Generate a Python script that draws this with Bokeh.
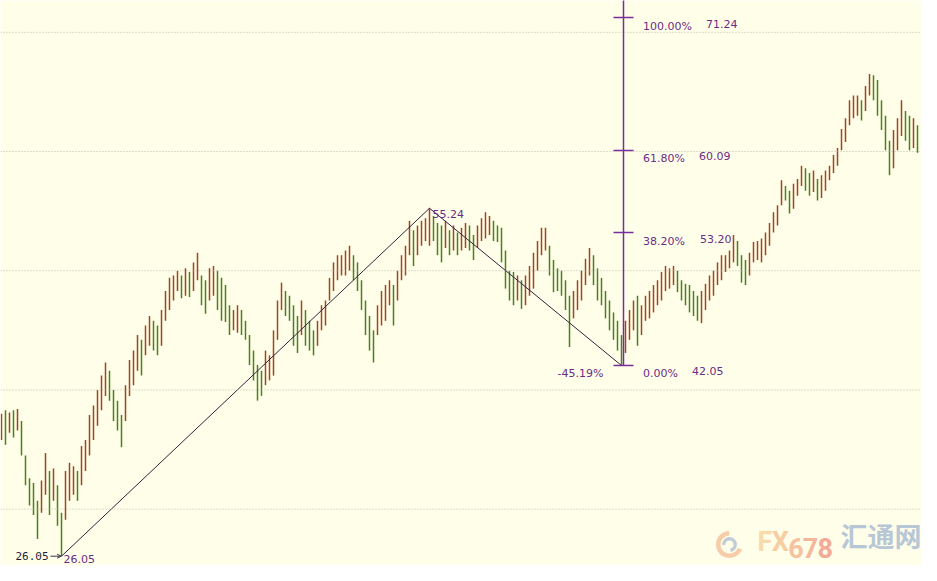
from bokeh.plotting import figure
from bokeh.models import Range1d, Span, Label, Arrow, OpenHead, ColumnDataSource
from bokeh.core.properties import value
from bokeh.embed import file_html
from bokeh.resources import INLINE

# ---------------- data ----------------
high = [38.0, 38.3, 38.1, 38.3, 38.4, 37.4, 34.5, 32.6, 32.2, 30.7,
        32.4, 34.7, 33.2, 33.4, 32.0, 29.7, 33.2, 33.9, 33.6, 33.2,
        35.3, 35.8, 37.9, 38.7, 40.0, 41.2, 42.3, 41.6, 40.0, 39.1,
        37.9, 40.4, 42.5, 43.3, 44.6, 44.2, 45.4, 46.2, 45.8, 45.4,
        46.7, 48.3, 49.4, 49.6, 50.0, 49.6, 50.2, 49.9, 50.7, 51.5,
        49.6, 49.2, 50.2, 50.4, 50.0, 49.4, 48.8, 47.1, 46.7, 47.1,
        46.7, 45.8, 44.6, 43.3, 42.1, 41.6, 43.3, 42.9, 45.0, 47.5,
        49.0, 48.3, 47.9, 47.1, 46.2, 47.5, 46.7, 45.8, 45.0, 45.8,
        47.1, 47.5, 49.4, 50.7, 51.3, 51.3, 51.7, 52.1, 51.3, 50.7,
        49.2, 47.5, 46.2, 45.0, 47.1, 48.3, 48.8, 49.2, 48.8, 50.0,
        51.3, 52.1, 54.2, 53.4, 53.8, 54.2, 54.4, 55.24, 54.6, 54.0,
        53.8, 54.2, 53.4, 53.8, 53.2, 53.6, 54.0, 53.8, 53.0, 53.8,
        54.4, 54.9, 54.6, 54.2, 53.8, 53.6, 51.7, 50.0, 49.9, 49.6,
        49.2, 49.6, 50.4, 51.5, 52.5, 53.6, 53.6, 52.1, 50.9, 50.2,
        50.0, 49.2, 47.9, 48.3, 49.2, 50.0, 51.0, 51.9, 51.3, 50.2,
        49.4, 48.3, 47.5, 46.5, 45.8, 44.6, 45.8, 46.7, 47.5, 47.9,
        47.1, 47.9, 48.3, 48.8, 49.2, 49.9, 50.4, 50.2, 50.4, 50.0,
        49.2, 48.9, 48.8, 48.3, 47.9, 48.3, 48.9, 49.6, 50.0, 50.7,
        51.3, 51.3, 51.7, 53.0, 52.5, 51.3, 50.9, 51.5, 52.4, 52.5,
        52.7, 53.2, 54.0, 54.9, 55.5, 57.6, 57.1, 56.7, 57.3, 57.7,
        58.8, 58.6, 58.2, 58.4, 57.7, 58.0, 58.4, 58.8, 59.7, 60.3,
        61.9, 62.8, 64.3, 64.7, 64.7, 64.3, 65.5, 66.5, 66.4, 66.0,
        64.3, 63.0, 60.9, 61.8, 62.8, 64.3, 63.4, 63.0, 62.8, 62.2]

low = [35.8, 35.4, 36.4, 36.0, 36.6, 34.5, 32.0, 30.3, 29.5, 27.5,
       29.7, 31.2, 29.5, 30.7, 28.6, 26.05, 29.1, 30.7, 31.2, 30.7,
       32.0, 33.2, 34.5, 35.8, 37.0, 38.3, 39.5, 39.1, 37.4, 36.6,
       35.2, 37.4, 39.5, 40.4, 41.6, 41.2, 42.9, 43.7, 43.3, 42.9,
       43.7, 45.8, 46.7, 47.5, 48.3, 47.7, 47.9, 47.8, 48.3, 49.2,
       47.1, 46.4, 47.5, 47.9, 46.7, 45.8, 45.7, 44.6, 45.0, 44.8,
       44.6, 44.2, 42.1, 40.8, 39.1, 39.5, 40.4, 40.8, 41.2, 44.2,
       46.7, 46.2, 45.8, 43.7, 43.1, 44.6, 43.7, 43.3, 42.9, 43.7,
       45.0, 45.4, 47.5, 48.3, 49.2, 49.6, 49.6, 50.0, 49.2, 48.3,
       46.7, 44.6, 43.3, 42.3, 44.6, 45.4, 45.8, 47.1, 45.4, 47.5,
       49.2, 49.6, 51.3, 50.4, 51.3, 52.1, 52.5, 52.1, 52.5, 51.3,
       50.7, 51.9, 51.3, 51.7, 51.3, 51.7, 51.9, 51.7, 50.9, 51.9,
       52.5, 52.7, 53.0, 52.5, 52.4, 50.7, 48.5, 47.5, 47.1, 47.5,
       46.8, 47.1, 47.9, 48.5, 50.0, 51.3, 51.7, 49.6, 48.2, 48.3,
       47.9, 46.7, 43.6, 46.0, 46.7, 47.5, 48.8, 49.6, 48.8, 47.5,
       47.1, 46.0, 45.0, 44.2, 43.3, 42.05, 43.1, 44.2, 45.0, 43.7,
       44.6, 45.8, 46.0, 46.5, 47.1, 47.5, 48.3, 48.5, 48.8, 48.2,
       47.5, 47.1, 46.5, 46.2, 45.8, 45.6, 46.7, 47.5, 47.9, 48.8,
       49.2, 49.9, 50.2, 50.7, 50.4, 49.0, 48.8, 49.6, 50.7, 50.9,
       50.7, 51.3, 52.1, 53.2, 53.8, 55.5, 55.9, 54.8, 55.2, 56.3,
       57.1, 56.7, 56.3, 56.6, 55.9, 56.1, 56.7, 57.6, 58.2, 58.8,
       60.1, 60.8, 62.2, 62.8, 63.0, 62.6, 63.4, 64.7, 64.3, 63.0,
       61.8, 60.1, 58.0, 58.6, 60.1, 61.3, 60.9, 60.1, 60.3, 59.9]

grid_levels = [30, 40, 50, 60, 70]

# zig-zag pivots (bar index, price)
pivot_idx = [15, 107, 155]
pivot_price = [26.05, 55.24, 42.05]
pivot_labels = ["26.05", "55.24"]
retrace_label = "-45.19%"

# projection levels
fib_pct = ["0.00%", "38.20%", "61.80%", "100.00%"]
fib_val = [42.05, 53.20, 60.09, 71.24]
fib_val_txt = ["42.05", "53.20", "60.09", "71.24"]

start_tag = "26.05"

# ---------------- styling ----------------
BG = "#FFFFE9"
PURPLE = "#6B2C87"
VLINE = "#7A2C9E"
ZIG = "#33203F"
UP = "#A0461E"
DOWN = "#4B7F1F"

n = len(high)
xs = list(range(n))
mid = [(h + l) / 2 for h, l in zip(high, low)]
colors = [UP if i == 0 or mid[i] >= mid[i - 1] else DOWN for i in range(n)]

src = ColumnDataSource(dict(x=xs, high=high, low=low, color=colors))

Y_TOP, Y_BOT = 72.67, 25.27
p = figure(width=921, height=565, x_range=Range1d(-0.25, 230), y_range=Range1d(Y_BOT, Y_TOP),
           output_backend="svg", toolbar_location=None,
           background_fill_color=BG, border_fill_color=BG, min_border=0,
           outline_line_color=None, x_axis_location=None, y_axis_location=None)
p.grid.visible = False

for g in grid_levels:
    p.add_layout(Span(location=g, dimension="width", line_color="#B9B9AA",
                      line_dash="1 2", line_width=1))

p.segment(x0="x", y0="low", x1="x", y1="high", line_color="color", line_width=1.5, source=src)

# zig-zag
p.line(pivot_idx, pivot_price, line_color=ZIG, line_width=1)

# vertical projection line and level ticks
vx = pivot_idx[2] + 0.5
p.segment(x0=[vx], y0=[pivot_price[2]], x1=[vx], y1=[Y_TOP + 2], line_color=VLINE, line_width=1.5)
p.segment(x0=[vx - 2.5] * 4, y0=fib_val, x1=[vx + 2.5] * 4, y1=fib_val, line_color=VLINE, line_width=1.5)

FONT = value("DejaVu Sans")
lab_x = vx + 4.9
p.text(x=[lab_x] * 4, y=fib_val, text=fib_pct, text_font=FONT, text_font_size="11px",
       text_color=PURPLE, text_baseline="top", y_offset=2)
val_off = [49, 57, 56, 63]
for v, t, o in zip(fib_val, fib_val_txt, val_off):
    p.text(x=[lab_x], y=[v], text=[t], text_font=FONT, text_font_size="11px",
           text_color=PURPLE, text_baseline="top", y_offset=2, x_offset=o)

# pivot labels
p.text(x=[pivot_idx[0] + 0.5], y=[pivot_price[0]], text=[pivot_labels[0]], text_font=FONT,
       text_font_size="11px", text_color=PURPLE, text_baseline="top", y_offset=-1)
p.text(x=[pivot_idx[1] + 0.75], y=[pivot_price[1]], text=[pivot_labels[1]], text_font=FONT,
       text_font_size="11px", text_color=PURPLE, text_baseline="top", y_offset=2)
p.text(x=[pivot_idx[2] - 4.5], y=[pivot_price[2]], text=[retrace_label], text_font=FONT,
       text_font_size="11px", text_color=PURPLE, text_baseline="top", text_align="right", y_offset=2)

# start tag with arrow
p.text(x=[pivot_idx[0] - 3.25], y=[pivot_price[0]], text=[start_tag], text_font=value("DejaVu Sans Mono"),
       text_font_size="11px", text_color="#1C1C3A", text_baseline="middle", text_align="right")
p.add_layout(Arrow(end=OpenHead(size=4, line_color="#333344", line_width=1),
                   x_start=pivot_idx[0] - 2.75, y_start=pivot_price[0],
                   x_end=pivot_idx[0] - 0.1, y_end=pivot_price[0],
                   line_color="#333344", line_width=1))

# watermark
p.annular_wedge(x=[182], y=[27.03], inner_radius=9, outer_radius=13.5, inner_radius_units="screen",
                outer_radius_units="screen", start_angle=1.6, end_angle=5.9,
                fill_color="#F6C7A2", line_color=None, fill_alpha=0.9)
p.annular_wedge(x=[182], y=[27.03], inner_radius=4, outer_radius=7.5, inner_radius_units="screen",
                outer_radius_units="screen", start_angle=-1.4, end_angle=3.2,
                fill_color="#B9C7D5", line_color=None, fill_alpha=0.9)
wm_chars = ["F", "X", "6", "7", "8"]
wm_cols = ["#F8DAAB", "#F7CEA4", "#F6C29F", "#F5B69B", "#F3AA97"]
wm_adv = [0, 14.3, 30.7, 45.3, 59.9]
for ch, c, a in zip(wm_chars, wm_cols, wm_adv):
    p.add_layout(Label(x=757 + a, y=8, x_units="screen", y_units="screen", text=ch,
                       text_font="Roboto", text_font_style="bold", text_font_size="27px",
                       text_color=c))
p.add_layout(Label(x=840, y=11, x_units="screen", y_units="screen", text="汇通网",
                   text_font="Noto Sans CJK SC", text_font_style="bold", text_font_size="27px",
                   text_color="#B8C7D6"))

open("out.html", "w").write(file_html(p, INLINE))
